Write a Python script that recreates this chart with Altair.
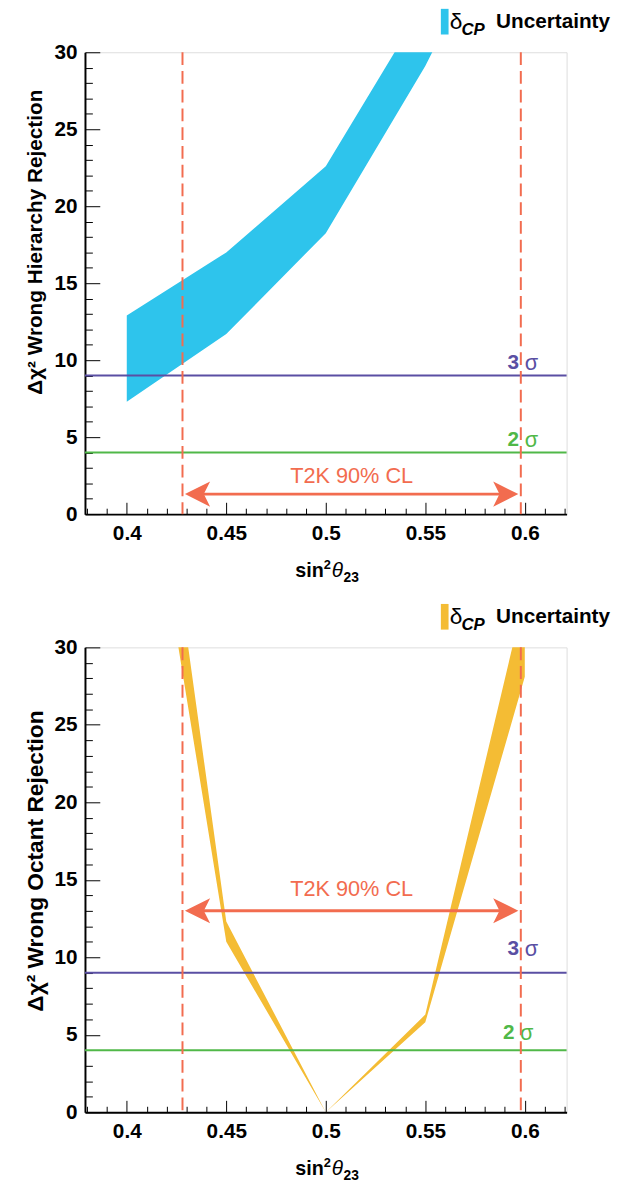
import altair as alt
import pandas as pd

# ---------------- data ----------------
sin2_x = [0.40, 0.45, 0.50, 0.55, 0.60]
hier_lo = [7.3, 11.7, 18.25, 29.1, 42.0]
hier_hi = [12.9, 17.0, 22.6, 33.3, 47.0]
oct_lo = [50.5, 11.0, 0.0, 5.8, 28.1]
oct_hi = [58.6, 12.3, 0.0, 6.3, 33.4]

t2k_cl = [0.428, 0.598]
sigma_levels = [9, 4]
sigma_digits = ["3", "2"]

x_major = [0.40, 0.45, 0.50, 0.55, 0.60]
x_minor = [0.38, 0.39, 0.41, 0.42, 0.43, 0.44, 0.46, 0.47, 0.48, 0.49,
           0.51, 0.52, 0.53, 0.54, 0.56, 0.57, 0.58, 0.59, 0.61, 0.62]
y_major = [0, 5, 10, 15, 20, 25, 30]
y_minor = [1, 2, 3, 4, 6, 7, 8, 9, 11, 12, 13, 14, 16, 17, 18, 19,
           21, 22, 23, 24, 26, 27, 28, 29]

xtitle_parts = ["sin", "2", "θ", "23"]

FONT = "Liberation Sans"
ORANGE = "#f26c4f"
SIGMA_COLORS = ["#5a4fa3", "#50b848"]
W = 488


def panel(lo, hi, color, ytitle, H, arrow_y, cl_text_y, sig_y, sig_x, ytitle_y, ytitle_size, xtitle_base):
    xs = alt.Scale(domain=[0.379, 0.621], nice=False, zero=False)
    ys = alt.Scale(domain=[0, 30], nice=False, zero=False)
    band_df = pd.DataFrame({"x": sin2_x, "lo": lo, "hi": hi, "label": ["Uncertainty"] * len(sin2_x)})

    band = alt.Chart(band_df).mark_area(clip=True, opacity=1).encode(
        x=alt.X("x:Q", scale=xs, axis=alt.Axis(
            values=x_major, format="~g", ticks=False, tickSize=0, labelPadding=9,
            domainColor="black", domainWidth=2, grid=False, labelFlush=False,
            labelFont=FONT, labelFontSize=21, labelFontWeight="bold", labelColor="black",
            title=None)),
        y=alt.Y("lo:Q", scale=ys, axis=alt.Axis(
            values=y_major, format="d", ticks=False, tickSize=0, labelPadding=8,
            domainColor="black", domainWidth=2, grid=False, labelFlush=False,
            labelFont=FONT, labelFontSize=21, labelFontWeight="bold", labelColor="black",
            title=ytitle, titleFont=FONT, titleFontSize=ytitle_size, titleFontWeight="bold",
            titleColor="black", titleX=-50, titleY=ytitle_y, titleAngle=270,
            titleAlign="center", titleBaseline="middle")),
        y2="hi:Q",
        color=alt.Color("label:N", scale=alt.Scale(domain=["Uncertainty"], range=[color]),
                        legend=alt.Legend(orient="none", legendX=351.5, legendY=-44, title=None,
                                          symbolType="M -0.3 -1 H 0.3 V 1 H -0.3 Z",
                                          symbolSize=676, symbolStrokeWidth=0, padding=0,
                                          labelFont=FONT, labelFontSize=21, labelFontWeight="bold",
                                          labelColor="black", labelOffset=39)),
    )

    def tick_layer(xv, yv, xlen, ylen):
        return alt.Chart(band_df).mark_point(opacity=0, clip=True).encode(
            x=alt.X("x:Q", scale=xs, axis=alt.Axis(
                orient="top", offset=-H, values=xv, tickSize=xlen, labels=False,
                domain=False, title=None, grid=False, tickColor="black", tickWidth=1)),
            y=alt.Y("lo:Q", scale=ys, axis=alt.Axis(
                orient="right", offset=-W, values=yv, tickSize=ylen, labels=False,
                domain=False, title=None, grid=False, tickColor="black", tickWidth=1)),
        )

    major = tick_layer(x_major, y_major, 12, 15)
    minor = tick_layer(x_minor, y_minor, 6, 7.5)

    layers = [band, major, minor]

    for lvl, col, dig, sy, (sx1, sx2) in zip(sigma_levels, SIGMA_COLORS, sigma_digits, sig_y, sig_x):
        ldf = pd.DataFrame({"y": [lvl], "ty": [sy], "x1": [sx1], "x2": [sx2],
                            "d": [dig], "s": ["σ"]})
        layers.append(alt.Chart(ldf).mark_rule(color=col, strokeWidth=2).encode(
            y=alt.Y("y:Q", scale=ys, axis=None)))
        layers.append(alt.Chart(ldf).mark_text(color=col, font=FONT, fontSize=21,
                                               fontWeight="bold", baseline="middle").encode(
            x=alt.X("x1:Q", scale=xs, axis=None), y=alt.Y("ty:Q", scale=ys, axis=None), text="d:N"))
        layers.append(alt.Chart(ldf).mark_text(color=col, font=FONT, fontSize=22,
                                               baseline="middle").encode(
            x=alt.X("x2:Q", scale=xs, axis=None), y=alt.Y("ty:Q", scale=ys, axis=None), text="s:N"))

    cl_df = pd.DataFrame({"x": t2k_cl})
    layers.append(alt.Chart(cl_df).mark_rule(color=ORANGE, strokeWidth=2, strokeDash=[13, 6]).encode(
        x=alt.X("x:Q", scale=xs, axis=None)))

    arr_df = pd.DataFrame({"x1": [t2k_cl[0]], "x2": [t2k_cl[1]], "y": [arrow_y],
                           "ty": [cl_text_y], "tx": [sum(t2k_cl) / 2], "t": ["T2K 90% CL"]})
    layers.append(alt.Chart(arr_df).mark_rule(color=ORANGE, strokeWidth=3, xOffset=15, x2Offset=-15).encode(
        x=alt.X("x1:Q", scale=xs, axis=None), x2="x2:Q", y=alt.Y("y:Q", scale=ys, axis=None)))
    layers.append(alt.Chart(arr_df).mark_point(shape="M 0 0 L 2 -1 L 1.5 0 L 2 1 Z", size=650,
                                               filled=True, color=ORANGE, opacity=1, xOffset=2.5).encode(
        x=alt.X("x1:Q", scale=xs, axis=None), y=alt.Y("y:Q", scale=ys, axis=None)))
    layers.append(alt.Chart(arr_df).mark_point(shape="M 0 0 L -2 -1 L -1.5 0 L -2 1 Z", size=650,
                                               filled=True, color=ORANGE, opacity=1, xOffset=-2.5).encode(
        x=alt.X("x2:Q", scale=xs, axis=None), y=alt.Y("y:Q", scale=ys, axis=None)))
    layers.append(alt.Chart(arr_df).mark_text(color=ORANGE, font=FONT, fontSize=22,
                                              baseline="middle").encode(
        x=alt.X("tx:Q", scale=xs, axis=None), y=alt.Y("ty:Q", scale=ys, axis=None), text="t:N"))

    # legend text parts (delta, CP)
    leg_df = pd.DataFrame({"a": ["δ"], "b": ["CP"]})
    layers.append(alt.Chart(leg_df).mark_text(font=FONT, fontSize=23, color="black",
                                              align="left", baseline="middle").encode(
        text="a:N", x=alt.value(369.5), y=alt.value(-31)))
    layers.append(alt.Chart(leg_df).mark_text(font=FONT, fontSize=17, color="black", fontWeight="bold",
                                              fontStyle="italic", align="left", baseline="alphabetic").encode(
        text="b:N", x=alt.value(381.5), y=alt.value(-18)))

    # x-axis title: sin^2 theta_23
    t_df = pd.DataFrame({"s": [xtitle_parts[0]], "p": [xtitle_parts[1]],
                         "th": [xtitle_parts[2]], "sub": [xtitle_parts[3]]})
    layers.append(alt.Chart(t_df).mark_text(font=FONT, fontSize=20, fontWeight="bold", color="black",
                                            align="left", baseline="alphabetic").encode(
        text="s:N", x=alt.value(213), y=alt.value(H + xtitle_base)))
    layers.append(alt.Chart(t_df).mark_text(font=FONT, fontSize=13, fontWeight="bold", color="black",
                                            align="left", baseline="alphabetic").encode(
        text="p:N", x=alt.value(242), y=alt.value(H + xtitle_base - 8)))
    layers.append(alt.Chart(t_df).mark_text(font=FONT, fontSize=21, fontStyle="italic", color="black",
                                            align="left", baseline="alphabetic").encode(
        text="th:N", x=alt.value(250), y=alt.value(H + xtitle_base)))
    layers.append(alt.Chart(t_df).mark_text(font=FONT, fontSize=14, fontWeight="bold", color="black",
                                            align="left", baseline="alphabetic").encode(
        text="sub:N", x=alt.value(262), y=alt.value(H + xtitle_base + 5)))

    return alt.layer(*layers).resolve_axis(x="independent", y="independent").properties(width=W, height=H)


top = panel(hier_lo, hier_hi, "#2ec4ec", "Δχ² Wrong Hierarchy Rejection", 468,
            1.3, 2.45, [9.8, 4.8], [(0.5942, 0.6034), (0.5942, 0.6034)], 192, 21, 64)
bottom = panel(oct_lo, oct_hi, "#f4bc34", "Δχ² Wrong Octant Rejection", 471,
               13.0, 14.4, [10.5, 5.1], [(0.5942, 0.6034), (0.5920, 0.6010)], 216, 23, 64)

chart = alt.vconcat(top, bottom, spacing=135, bounds="flush").resolve_scale(
    color="independent").properties(
    padding={"left": 16, "top": -8, "right": 0, "bottom": 0}
).configure_view(stroke="black", strokeWidth=1).configure(font=FONT)

chart.save("out.html", embed_options={"renderer": "svg", "actions": False})
